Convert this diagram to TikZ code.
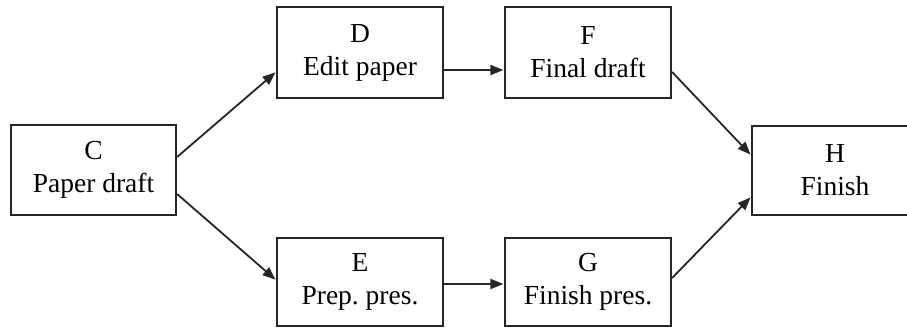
\documentclass[tikz,border=0pt]{standalone}
\usepackage{fontspec}
\setmainfont{Liberation Serif}
\usetikzlibrary{arrows.meta}
\frenchspacing
\begin{document}
\begin{tikzpicture}[x=1pt,y=-1pt,
  task/.style={draw=black!85, line width=2.2pt, fill=white, rectangle,
    minimum width=166pt, align=center, inner sep=0pt,
    font=\fontsize{27.5}{33}\selectfont},
  link/.style={draw=black!85, line width=1.8pt,
    -{Triangle[length=13pt,width=10pt]}, shorten >=0.5pt}]
\useasboundingbox (0,0) rectangle (907,329);
\clip (0,0) rectangle (907,329);
\fill[white] (0,0) rectangle (907,329);

\node[task, minimum width=165pt, minimum height=90pt] (C) at (93.5,170) {C\\Paper draft};
\node[task, minimum height=91pt] (D) at (360,52.5) {D\\Edit paper};
\node[task, minimum height=91pt] (F) at (588,52.5) {F\\Final draft};
\node[task, minimum height=88pt] (E) at (360,282) {E\\Prep. pres.};
\node[task, minimum height=88pt] (G) at (588,282) {G\\Finish pres.};
\node[task, minimum height=89pt] (H) at (835,170.5) {H\\Finish};

\draw[link] ([yshift=13pt]C.east) -- ([yshift=-19.5pt]D.west);
\draw[link] ([yshift=-24pt]C.east) -- ([yshift=2pt]E.west);
\draw[link] ([yshift=-17.5pt]D.east) -- ([yshift=-17.5pt]F.west);
\draw[link] ([yshift=-2pt]E.east) -- ([yshift=-2pt]G.west);
\draw[link] ([yshift=-19.5pt]F.east) -- ([yshift=15.5pt]H.west);
\draw[link] ([yshift=4pt]G.east) -- ([yshift=-26.5pt]H.west);
\end{tikzpicture}
\end{document}
